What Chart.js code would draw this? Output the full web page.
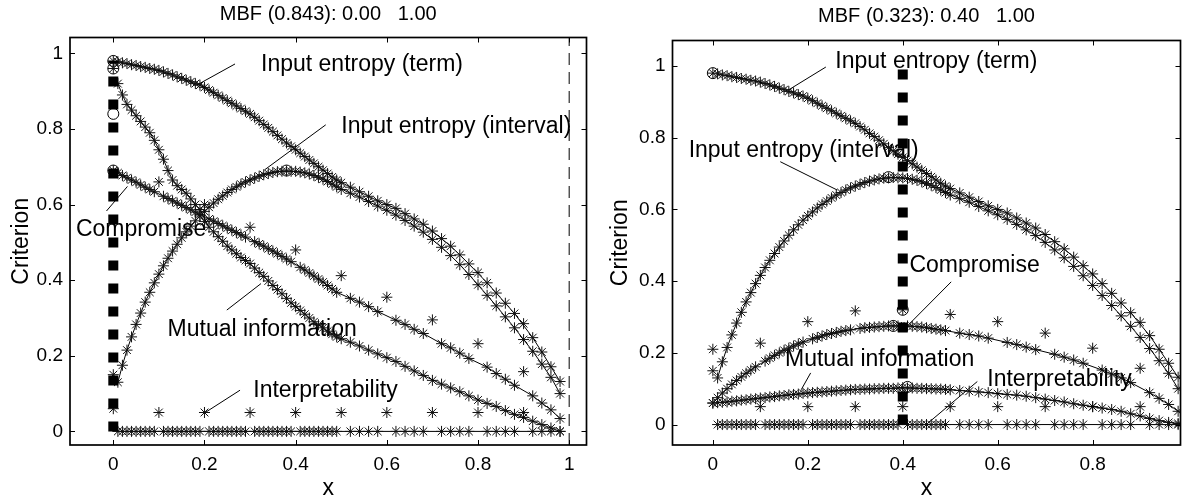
<!DOCTYPE html>
<html>
<head>
<meta charset="utf-8">
<script src="https://cdn.jsdelivr.net/npm/chart.js@4.4.0/dist/chart.umd.min.js"></script>
<style>
  body { margin: 0; background: #fff; }
  #wrap { position: relative; width: 1187px; height: 502px; overflow: hidden; }
  #leftChart { position: absolute; left: 0; top: 0; }
  #rightChart { position: absolute; left: 593px; top: 0; }
</style>
</head>
<body>
<div id="wrap">
  <canvas id="leftChart" width="593" height="502"></canvas>
  <canvas id="rightChart" width="594" height="502"></canvas>
</div>
<script>
// x positions of the evaluated points (dense up to 0.49, every 0.02 after)
const xGrid = [
  0.01, 0.02, 0.03, 0.04, 0.05, 0.06, 0.07, 0.08, 0.09,
  0.11, 0.12, 0.13, 0.14, 0.15, 0.16, 0.17, 0.18, 0.19,
  0.21, 0.22, 0.23, 0.24, 0.25, 0.26, 0.27, 0.28, 0.29,
  0.31, 0.32, 0.33, 0.34, 0.35, 0.36, 0.37, 0.38, 0.39,
  0.41, 0.42, 0.43, 0.44, 0.45, 0.46, 0.47, 0.48, 0.49,
  0.52, 0.54, 0.56, 0.58, 0.62, 0.64, 0.66, 0.68, 0.72, 0.74,
  0.76, 0.78, 0.82, 0.84, 0.86, 0.88, 0.92, 0.94, 0.96, 0.98
];
// x positions of the separate round-number points
const xRound = [0, 0.1, 0.2, 0.3, 0.4, 0.5, 0.6, 0.7, 0.8, 0.9];

const yTicks = [0, 0.2, 0.4, 0.6, 0.8, 1];
const yTickLabels = ["0", "0.2", "0.4", "0.6", "0.8", "1"];
const xTicksLeft = [0, 0.2, 0.4, 0.6, 0.8, 1];
const xTickLabelsLeft = ["0", "0.2", "0.4", "0.6", "0.8", "1"];
const xTicksRight = [0, 0.2, 0.4, 0.6, 0.8];
const xTickLabelsRight = ["0", "0.2", "0.4", "0.6", "0.8"];

// Input entropy (term) - same in both panels
const termCurve = [
  0.978, 0.975, 0.973, 0.970, 0.968, 0.965, 0.963, 0.960, 0.958,
  0.951, 0.947, 0.943, 0.938, 0.934, 0.929, 0.925, 0.920, 0.916,
  0.903, 0.896, 0.889, 0.882, 0.875, 0.868, 0.861, 0.854, 0.847,
  0.831, 0.822, 0.812, 0.803, 0.793, 0.783, 0.773, 0.763, 0.754,
  0.736, 0.727, 0.718, 0.709, 0.700, 0.691, 0.682, 0.673, 0.665,
  0.646, 0.634, 0.622, 0.610, 0.590, 0.576, 0.562, 0.548, 0.510, 0.490,
  0.467, 0.443, 0.393, 0.366, 0.339, 0.312, 0.248, 0.210, 0.171, 0.132
];
const termRound = [0.98, 0.955, 0.910, 0.840, 0.745, 0.658, 0.600, 0.530, 0.420, 0.285];

// Input entropy (interval) - same in both panels
const intervalCurve = [
  0.130, 0.175, 0.215, 0.250, 0.283, 0.313, 0.342, 0.368, 0.393,
  0.438, 0.458, 0.477, 0.495, 0.512, 0.528, 0.543, 0.557, 0.570,
  0.593, 0.604, 0.614, 0.623, 0.632, 0.640, 0.647, 0.654, 0.660,
  0.670, 0.675, 0.679, 0.682, 0.685, 0.687, 0.688, 0.689, 0.688,
  0.686, 0.684, 0.681, 0.677, 0.672, 0.667, 0.661, 0.654, 0.647,
  0.630, 0.620, 0.608, 0.596, 0.572, 0.558, 0.543, 0.527, 0.487, 0.465,
  0.441, 0.415, 0.360, 0.332, 0.303, 0.274, 0.212, 0.178, 0.143, 0.100
];
const intervalRound = [0.15, 0.416, 0.582, 0.665, 0.688, 0.640, 0.585, 0.508, 0.388, 0.243];

// Interpretability - same in both panels
const interpCurve = [
  0, 0, 0, 0, 0, 0, 0, 0, 0,
  0, 0, 0, 0, 0, 0, 0, 0, 0,
  0, 0, 0, 0, 0, 0, 0, 0, 0,
  0, 0, 0, 0, 0, 0, 0, 0, 0,
  0, 0, 0, 0, 0, 0, 0, 0, 0,
  0, 0, 0, 0, 0, 0, 0, 0, 0, 0,
  0, 0, 0, 0, 0, 0, 0, 0, 0, 0
];
const interpRound = [0.06, 0.05, 0.05, 0.05, 0.05, 0.05, 0.05, 0.05, 0.05, 0.05];

// Left panel: mutual information and compromise
const leftMutual = [
  0.920, 0.890, 0.865, 0.850, 0.835, 0.820, 0.805, 0.790, 0.770,
  0.720, 0.690, 0.665, 0.650, 0.640, 0.630, 0.615, 0.600, 0.587,
  0.540, 0.528, 0.515, 0.503, 0.490, 0.480, 0.470, 0.460, 0.452,
  0.432, 0.420, 0.410, 0.398, 0.386, 0.375, 0.364, 0.352, 0.340,
  0.320, 0.310, 0.300, 0.290, 0.282, 0.274, 0.265, 0.257, 0.250,
  0.236, 0.226, 0.215, 0.205, 0.185, 0.172, 0.160, 0.148, 0.125, 0.115,
  0.105, 0.094, 0.074, 0.066, 0.055, 0.045, 0.027, 0.018, 0.009, 0.000
];
const leftMutualRound = [0.96, 0.745, 0.555, 0.444, 0.330, 0.245, 0.195, 0.135, 0.083, 0.037];

const leftCompromise = [
  0.684, 0.677, 0.671, 0.665, 0.659, 0.652, 0.646, 0.640, 0.634,
  0.622, 0.616, 0.610, 0.604, 0.598, 0.592, 0.586, 0.580, 0.574,
  0.562, 0.556, 0.550, 0.544, 0.538, 0.532, 0.526, 0.520, 0.514,
  0.502, 0.496, 0.490, 0.483, 0.477, 0.470, 0.463, 0.456, 0.449,
  0.434, 0.427, 0.419, 0.411, 0.403, 0.395, 0.386, 0.377, 0.368,
  0.352, 0.342, 0.330, 0.317, 0.294, 0.283, 0.270, 0.259, 0.232, 0.221,
  0.207, 0.193, 0.170, 0.153, 0.138, 0.122, 0.094, 0.075, 0.057, 0.034
];
const leftCompromiseRound = [0.69, 0.66, 0.60, 0.54, 0.48, 0.412, 0.355, 0.295, 0.232, 0.158];

// Right panel: mutual information and compromise
const rightMutual = [
  0.061, 0.062, 0.063, 0.065, 0.066, 0.068, 0.069, 0.071, 0.072,
  0.075, 0.077, 0.078, 0.080, 0.081, 0.083, 0.084, 0.085, 0.087,
  0.089, 0.090, 0.091, 0.092, 0.093, 0.094, 0.095, 0.096, 0.097,
  0.098, 0.099, 0.099, 0.100, 0.100, 0.101, 0.101, 0.101, 0.102,
  0.102, 0.102, 0.101, 0.101, 0.100, 0.100, 0.099, 0.099, 0.098,
  0.095, 0.093, 0.091, 0.089, 0.084, 0.082, 0.079, 0.075, 0.067, 0.063,
  0.058, 0.054, 0.046, 0.042, 0.037, 0.030, 0.017, 0.011, 0.006, 0.003
];
const rightMutualRound = [0.06, 0.074, 0.088, 0.098, 0.103, 0.097, 0.086, 0.071, 0.050, 0.024];

const rightCompromise = [
  0.075, 0.088, 0.100, 0.112, 0.123, 0.133, 0.143, 0.152, 0.161,
  0.177, 0.185, 0.193, 0.200, 0.207, 0.213, 0.219, 0.225, 0.230,
  0.239, 0.243, 0.247, 0.251, 0.254, 0.257, 0.260, 0.262, 0.264,
  0.268, 0.270, 0.271, 0.272, 0.273, 0.274, 0.275, 0.275, 0.275,
  0.275, 0.274, 0.273, 0.272, 0.270, 0.268, 0.266, 0.264, 0.262,
  0.255, 0.251, 0.247, 0.241, 0.229, 0.223, 0.216, 0.209, 0.196, 0.188,
  0.180, 0.171, 0.152, 0.141, 0.130, 0.117, 0.089, 0.073, 0.056, 0.037
];
const rightCompromiseRound = [0.21, 0.227, 0.287, 0.317, 0.320, 0.307, 0.287, 0.255, 0.213, 0.157];

// circled points
const leftCircleX = [0, 0, 0, 0, 0.38];
const leftCircleY = [0.98, 0.96, 0.84, 0.69, 0.69];
const rightCircleX = [0, 0.37, 0.4, 0.38, 0.41];
const rightCircleY = [0.98, 0.69, 0.32, 0.275, 0.105];

// MBF selection (from the titles)
const leftMbf = { value: 0.843, lo: 0.00, hi: 1.00, top: 0.98 };
const rightMbf = { value: 0.323, lo: 0.40, hi: 1.00, top: 1.00 };

// annotation labels and their pointer lines, in data units
const leftNotes = [
  { text: "Input entropy (term)", x: 0.324, y: 0.969, line: [0.267, 0.972, 0.183, 0.916] },
  { text: "Input entropy (interval)", x: 0.50, y: 0.807, line: [0.466, 0.811, 0.332, 0.692] },
  { text: "Compromise", x: -0.082, y: 0.534, line: [-0.015, 0.583, 0.031, 0.648] },
  { text: "Mutual information", x: 0.119, y: 0.268, line: [0.249, 0.321, 0.324, 0.391] },
  { text: "Interpretability", x: 0.307, y: 0.109, line: [0.278, 0.109, 0.203, 0.051] }
];
const rightNotes = [
  { text: "Input entropy (term)", x: 0.258, y: 1.013, line: [0.238, 0.997, 0.158, 0.932] },
  { text: "Input entropy (interval)", x: -0.051, y: 0.765, line: [0.142, 0.733, 0.262, 0.654] },
  { text: "Compromise", x: 0.414, y: 0.444, line: [0.502, 0.398, 0.412, 0.278] },
  { text: "Mutual information", x: 0.152, y: 0.181, line: [0.206, 0.144, 0.186, 0.097] },
  { text: "Interpretability", x: 0.578, y: 0.125, line: [0.557, 0.120, 0.454, 0.005] }
];

const FONT = '"Liberation Sans", Arial, Helvetica, sans-serif';

function pts(xs, ys) {
  return xs.map((x, i) => ({ x: x, y: ys[i] }));
}

function starSet(xs, ys, withLine) {
  return {
    data: pts(xs, ys),
    showLine: withLine,
    borderColor: "#000",
    borderWidth: 1,
    pointStyle: "star",
    pointRadius: 5.5,
    pointBorderColor: "#111",
    pointBorderWidth: 1,
    pointBackgroundColor: "rgba(0,0,0,0)",
    order: 2
  };
}

// box + inward tick marks, like the original plot
const boxTicks = {
  id: "boxTicks",
  afterDatasetsDraw(chart) {
    const { ctx, chartArea: a, scales: { x, y } } = chart;
    ctx.save();
    ctx.strokeStyle = "#000";
    ctx.lineWidth = 1;
    ctx.beginPath();
    x.ticks.forEach(t => {
      const px = Math.round(x.getPixelForValue(t.value)) + 0.5;
      ctx.moveTo(px, a.bottom); ctx.lineTo(px, a.bottom - 5);
      ctx.moveTo(px, a.top); ctx.lineTo(px, a.top + 5);
    });
    y.ticks.forEach(t => {
      const py = Math.round(y.getPixelForValue(t.value)) + 0.5;
      ctx.moveTo(a.left, py); ctx.lineTo(a.left + 5, py);
      ctx.moveTo(a.right, py); ctx.lineTo(a.right - 5, py);
    });
    ctx.stroke();
    ctx.lineWidth = 1.7;
    ctx.strokeRect(a.left, a.top, a.right - a.left, a.bottom - a.top);
    ctx.restore();
  }
};

// text labels, drawn under the markers
const notesPlugin = {
  id: "notes",
  beforeDatasetsDraw(chart, args, opts) {
    const { ctx, scales: { x, y } } = chart;
    ctx.save();
    ctx.fillStyle = "#000";
    ctx.font = "23px " + FONT;
    ctx.textAlign = "left";
    ctx.textBaseline = "middle";
    opts.items.forEach(n => {
      ctx.fillText(n.text, x.getPixelForValue(n.x), y.getPixelForValue(n.y));
    });
    ctx.restore();
  }
};

function makePanel(id, cfg) {
  const datasets = [];

  // thick dashed MBF line
  datasets.push({
    data: pts([cfg.mbf.lo, cfg.mbf.lo], [0, cfg.mbf.top]),
    borderColor: "#000",
    borderWidth: 10,
    borderDash: [10, 13],
    borderCapStyle: "butt",
    pointRadius: 0,
    order: 0
  });
  // thin dashed upper bound line
  if (cfg.mbf.hi <= cfg.xMax) {
    datasets.push({
      data: pts([cfg.mbf.hi, cfg.mbf.hi], [cfg.yMin, cfg.yMax]),
      borderColor: "#000",
      borderWidth: 1,
      borderDash: [12, 7],
      pointRadius: 0,
      order: 1
    });
  }

  cfg.curves.forEach(c => {
    datasets.push(starSet(xGrid, c[0], true));
    datasets.push(starSet(xRound, c[1], false));
  });

  datasets.push({
    data: pts(cfg.circleX, cfg.circleY),
    showLine: false,
    pointStyle: "circle",
    pointRadius: 5.5,
    pointBorderColor: "#000",
    pointBorderWidth: 1,
    pointBackgroundColor: "rgba(0,0,0,0)",
    order: 2
  });

  cfg.notes.forEach(n => {
    datasets.push({
      data: pts([n.line[0], n.line[2]], [n.line[1], n.line[3]]),
      borderColor: "#000",
      borderWidth: 1,
      pointRadius: 0,
      order: 3
    });
  });

  const tickFont = { family: FONT, size: 19 };

  new Chart(document.getElementById(id), {
    type: "line",
    data: { datasets: datasets },
    options: {
      responsive: false,
      animation: false,
      events: [],
      layout: { padding: { right: cfg.padRight, left: 0, top: 0, bottom: 0 } },
      plugins: {
        legend: { display: false },
        tooltip: { enabled: false },
        title: {
          display: true,
          text: cfg.title,
          fullSize: false,
          color: "#000",
          font: { family: FONT, size: 20, weight: "normal" },
          padding: { top: cfg.titleTop, bottom: cfg.titleBottom }
        },
        notes: { items: cfg.notes }
      },
      scales: {
        x: {
          type: "linear",
          min: cfg.xMin,
          max: cfg.xMax,
          afterBuildTicks: s => { s.ticks = cfg.xTicks.map(v => ({ value: v })); },
          afterFit: s => { s.height = 57; },
          grid: { display: false, drawTicks: false },
          border: { display: false },
          ticks: {
            padding: 8,
            color: "#000",
            font: tickFont,
            maxRotation: 0,
            autoSkip: false,
            callback: (v, i) => cfg.xTickLabels[i]
          },
          title: {
            display: true,
            text: "x",
            color: "#000",
            font: { family: FONT, size: 23 },
            padding: { top: 0, bottom: 0 }
          }
        },
        y: {
          type: "linear",
          min: cfg.yMin,
          max: cfg.yMax,
          afterBuildTicks: s => { s.ticks = yTicks.map(v => ({ value: v })); },
          afterFit: s => { s.width = cfg.yAxisWidth; },
          grid: { display: false, drawTicks: false },
          border: { display: false },
          ticks: {
            padding: 7,
            color: "#000",
            font: tickFont,
            autoSkip: false,
            callback: (v, i) => yTickLabels[i]
          },
          title: {
            display: true,
            text: "Criterion",
            color: "#000",
            font: { family: FONT, size: 23 },
            padding: { top: cfg.yTitlePad, bottom: 0 }
          }
        }
      }
    },
    plugins: [boxTicks, notesPlugin]
  });
}

makePanel("leftChart", {
  title: "MBF (" + leftMbf.value.toFixed(3) + "): " + leftMbf.lo.toFixed(2) + "   " + leftMbf.hi.toFixed(2),
  mbf: leftMbf,
  xMin: -0.095, xMax: 1.038, yMin: -0.036, yMax: 1.042,
  xTicks: xTicksLeft, xTickLabels: xTickLabelsLeft,
  padRight: 5.7, yAxisWidth: 70, yTitlePad: 8,
  titleTop: 2, titleBottom: 11.5,
  curves: [
    [termCurve, termRound],
    [intervalCurve, intervalRound],
    [leftMutual, leftMutualRound],
    [leftCompromise, leftCompromiseRound],
    [interpCurve, interpRound]
  ],
  circleX: leftCircleX, circleY: leftCircleY,
  notes: leftNotes
});

makePanel("rightChart", {
  title: "MBF (" + rightMbf.value.toFixed(3) + "): " + rightMbf.lo.toFixed(2) + "   " + rightMbf.hi.toFixed(2),
  mbf: rightMbf,
  xMin: -0.085, xMax: 0.985, yMin: -0.057, yMax: 1.071,
  xTicks: xTicksRight, xTickLabels: xTickLabelsRight,
  padRight: 4, yAxisWidth: 79.5, yTitlePad: 14,
  titleTop: 4, titleBottom: 12.5,
  curves: [
    [termCurve, termRound],
    [intervalCurve, intervalRound],
    [rightMutual, rightMutualRound],
    [rightCompromise, rightCompromiseRound],
    [interpCurve, interpRound]
  ],
  circleX: rightCircleX, circleY: rightCircleY,
  notes: rightNotes
});
</script>
</body>
</html>
